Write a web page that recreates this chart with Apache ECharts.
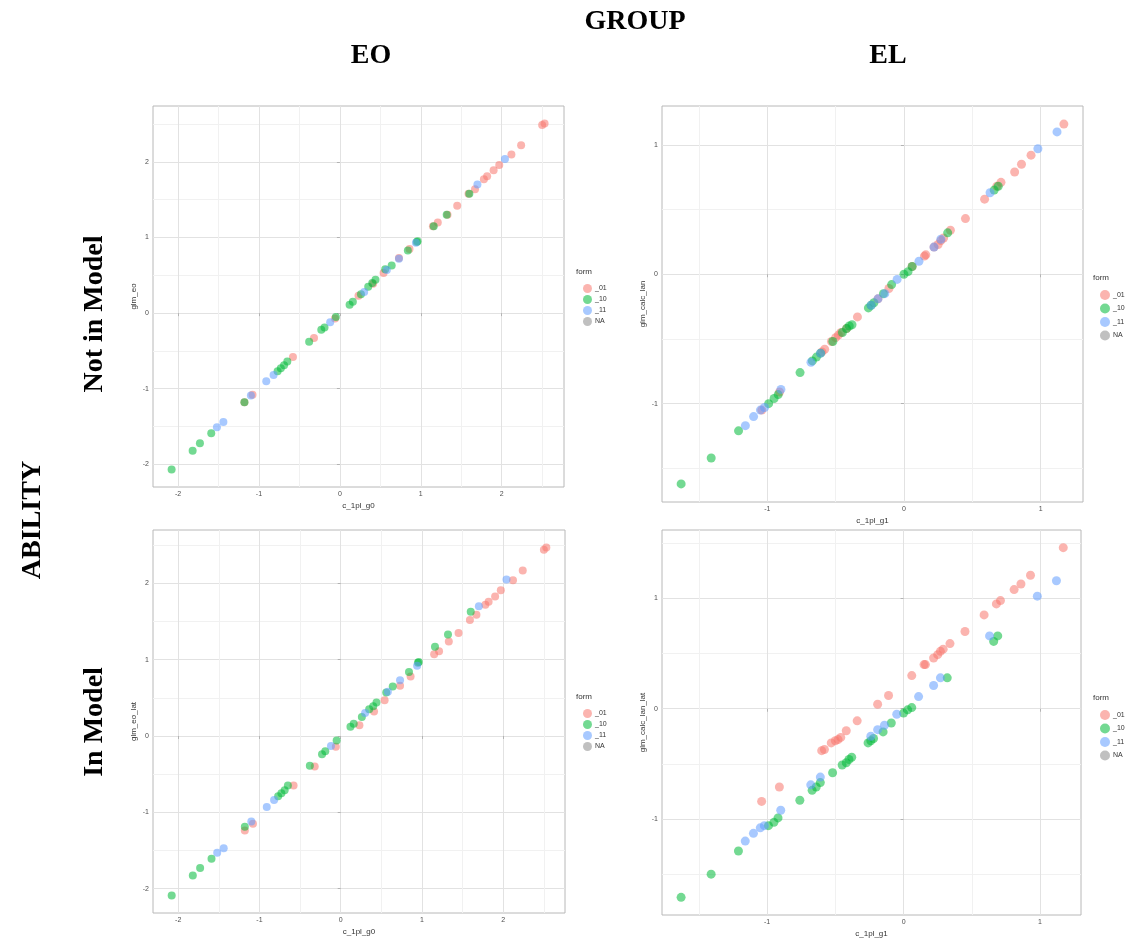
<!DOCTYPE html>
<html><head><meta charset="utf-8">
<script src="https://cdn.jsdelivr.net/npm/echarts@6/dist/echarts.min.js"></script>
<style>html,body{margin:0;padding:0;background:#fff}#c{width:1133px;height:939px}</style>
</head><body><div id="c"></div>
<script>
// ---------------- data ----------------
const forms = ['_01', '_10', '_11', 'NA'];
const formColors = ['#F8766D', '#00BA38', '#619CFF', '#8C8C8C'];
const ticksG0 = [-2, -1, 0, 1, 2];
const ticksG1 = [-1, 0, 1];
const xTitles = ['c_1pl_g0', 'c_1pl_g1', 'c_1pl_g0', 'c_1pl_g1'];
const yTitles = ['glm_eo', 'glm_calc_lan', 'glm_eo_lat', 'glm_calc_lan_lat'];
const colTitles = ['EO', 'EL'];
const rowTitles = ['Not in Model', 'In Model'];

// EO group, x = c_1pl_g0
const eoX01 = [-1.18, -1.08, -0.58, -0.32, -0.06, 0.23, 0.41, 0.54, 0.73, 0.86, 1.15, 1.21, 1.33, 1.45, 1.59, 1.67, 1.78, 1.82, 1.90, 1.97, 2.12, 2.24, 2.50, 2.53];
const eoY01 = [-1.18, -1.08, -0.58, -0.33, -0.07, 0.23, 0.39, 0.53, 0.73, 0.85, 1.15, 1.20, 1.30, 1.42, 1.58, 1.64, 1.77, 1.81, 1.89, 1.96, 2.10, 2.22, 2.49, 2.51];
const eoLatY01 = [-1.24, -1.15, -0.65, -0.40, -0.14, 0.14, 0.32, 0.47, 0.66, 0.78, 1.07, 1.11, 1.24, 1.35, 1.52, 1.59, 1.72, 1.76, 1.83, 1.91, 2.04, 2.17, 2.44, 2.47];

const eoX10 = [-2.08, -1.82, -1.73, -1.59, -1.18, -0.77, -0.73, -0.69, -0.65, -0.38, -0.23, -0.19, -0.05, 0.12, 0.16, 0.26, 0.35, 0.40, 0.44, 0.56, 0.64, 0.84, 0.95, 0.96, 1.16, 1.32, 1.60];
const eoY10 = [-2.07, -1.82, -1.72, -1.59, -1.18, -0.77, -0.73, -0.69, -0.64, -0.38, -0.22, -0.19, -0.05, 0.11, 0.15, 0.25, 0.35, 0.40, 0.44, 0.58, 0.63, 0.83, 0.94, 0.95, 1.15, 1.30, 1.58];
const eoLatY10 = [-2.09, -1.83, -1.73, -1.61, -1.19, -0.79, -0.75, -0.71, -0.65, -0.39, -0.24, -0.20, -0.06, 0.12, 0.16, 0.25, 0.35, 0.39, 0.44, 0.57, 0.65, 0.84, 0.96, 0.97, 1.17, 1.33, 1.63];

const eoX11 = [-1.52, -1.44, -1.10, -0.91, -0.82, -0.12, 0.30, 0.58, 0.73, 0.94, 1.70, 2.04];
const eoY11 = [-1.51, -1.44, -1.09, -0.90, -0.82, -0.12, 0.28, 0.57, 0.72, 0.93, 1.70, 2.04];
const eoLatY11 = [-1.53, -1.47, -1.12, -0.93, -0.84, -0.13, 0.30, 0.58, 0.73, 0.92, 1.70, 2.05];

// EL group, x = c_1pl_g1
const elX01 = [-1.04, -0.91, -0.60, -0.58, -0.53, -0.50, -0.48, -0.46, -0.42, -0.34, -0.19, -0.11, 0.06, 0.15, 0.16, 0.22, 0.25, 0.27, 0.29, 0.34, 0.45, 0.59, 0.68, 0.71, 0.81, 0.86, 0.93, 1.17];
const elY01 = [-1.05, -0.91, -0.60, -0.58, -0.52, -0.49, -0.47, -0.45, -0.42, -0.33, -0.19, -0.11, 0.06, 0.14, 0.15, 0.21, 0.23, 0.26, 0.28, 0.34, 0.43, 0.58, 0.68, 0.71, 0.79, 0.85, 0.92, 1.16];
const elLatY01 = [-0.84, -0.71, -0.38, -0.37, -0.31, -0.29, -0.28, -0.26, -0.20, -0.11, 0.04, 0.12, 0.30, 0.40, 0.40, 0.46, 0.49, 0.52, 0.54, 0.59, 0.70, 0.85, 0.95, 0.98, 1.08, 1.13, 1.21, 1.46];

const elX10 = [-1.63, -1.41, -1.21, -0.99, -0.95, -0.92, -0.76, -0.67, -0.64, -0.61, -0.52, -0.45, -0.42, -0.40, -0.38, -0.26, -0.24, -0.22, -0.15, -0.09, 0.00, 0.03, 0.06, 0.32, 0.66, 0.69];
const elY10 = [-1.62, -1.42, -1.21, -1.00, -0.96, -0.93, -0.76, -0.67, -0.64, -0.61, -0.52, -0.45, -0.42, -0.40, -0.39, -0.26, -0.24, -0.22, -0.15, -0.08, 0.00, 0.02, 0.06, 0.32, 0.65, 0.68];
const elLatY10 = [-1.71, -1.50, -1.29, -1.06, -1.03, -0.99, -0.83, -0.74, -0.71, -0.67, -0.58, -0.51, -0.49, -0.46, -0.44, -0.31, -0.29, -0.27, -0.21, -0.13, -0.04, -0.01, 0.01, 0.28, 0.61, 0.66];

const elX11 = [-1.16, -1.10, -1.05, -1.02, -0.90, -0.68, -0.61, -0.24, -0.19, -0.14, -0.05, 0.11, 0.22, 0.27, 0.63, 0.98, 1.12];
const elY11 = [-1.17, -1.10, -1.05, -1.03, -0.89, -0.68, -0.61, -0.24, -0.19, -0.15, -0.04, 0.10, 0.21, 0.27, 0.63, 0.97, 1.10];
const elLatY11 = [-1.20, -1.13, -1.08, -1.06, -0.92, -0.69, -0.62, -0.25, -0.19, -0.15, -0.05, 0.11, 0.21, 0.28, 0.66, 1.02, 1.16];

// ---------------- layout ----------------
const zip = (xs, ys) => xs.map((x, i) => [x, ys[i]]);
const panelData = [
  [zip(eoX01, eoY01), zip(eoX10, eoY10), zip(eoX11, eoY11), []],
  [zip(elX01, elY01), zip(elX10, elY10), zip(elX11, elY11), []],
  [zip(eoX01, eoLatY01), zip(eoX10, eoLatY10), zip(eoX11, eoLatY11), []],
  [zip(elX01, elLatY01), zip(elX10, elLatY10), zip(elX11, elLatY11), []]
];
const panels = [
  {left: 153, top: 106, width: 411, height: 381, xr: [-2.31, 2.77], yr: [-2.30, 2.74], ticks: ticksG0, size: 8, lx: 576, ly: 272, gap: 2},
  {left: 662, top: 106, width: 421, height: 396, xr: [-1.77, 1.31], yr: [-1.76, 1.30], ticks: ticksG1, size: 9, lx: 1093, ly: 278, gap: 3.5},
  {left: 153, top: 530, width: 412, height: 383, xr: [-2.31, 2.76], yr: [-2.32, 2.70], ticks: ticksG0, size: 8, lx: 576, ly: 697, gap: 2},
  {left: 662, top: 530, width: 419, height: 386, xr: [-1.77, 1.30], yr: [-1.87, 1.62], ticks: ticksG1, size: 9, lx: 1093, ly: 698, gap: 3.5}
];

const grid = [], xAxis = [], yAxis = [], series = [], legend = [], graphic = [];
const axisCommon = (ticks) => ({
  type: 'value', minInterval: 1, maxInterval: 1,
  axisLine: {show: false},
  axisTick: {show: true, length: 3, customValues: ticks, lineStyle: {color: '#B3B3B3', width: 1}},
  axisLabel: {customValues: ticks, fontSize: 7, color: '#4D4D4D', margin: 4, fontFamily: 'Liberation Sans'},
  splitLine: {show: true, lineStyle: {color: '#E2E2E2', width: 1}},
  minorTick: {show: false, splitNumber: 2},
  minorSplitLine: {show: true, lineStyle: {color: '#F1F1F1', width: 1}},
  nameLocation: 'middle',
  nameTextStyle: {fontSize: 8, color: '#333', fontFamily: 'Liberation Sans'}
});

panels.forEach((p, i) => {
  grid.push({left: p.left, top: p.top, width: p.width, height: p.height, show: true,
    borderColor: '#B8B8B8', borderWidth: 1, backgroundColor: '#fff', containLabel: false});
  xAxis.push(Object.assign(axisCommon(p.ticks), {gridIndex: i, min: p.xr[0], max: p.xr[1], name: xTitles[i], nameGap: 15}));
  yAxis.push(Object.assign(axisCommon(p.ticks), {gridIndex: i, min: p.yr[0], max: p.yr[1], name: yTitles[i], nameGap: 15}));
  forms.forEach((f, k) => {
    series.push({
      type: 'scatter', name: f, xAxisIndex: i, yAxisIndex: i,
      data: panelData[i][k], symbolSize: p.size,
      itemStyle: {color: formColors[k], opacity: 0.55},
      emphasis: {disabled: true}, silent: true, z: 3
    });
  });
  legend.push({
    data: forms, orient: 'vertical', left: p.lx + 2, top: p.ly + 7,
    icon: 'circle', itemWidth: p.size + 1, itemHeight: p.size + 1, itemGap: p.gap,
    selectedMode: false,
    textStyle: {fontSize: 7, color: '#333', fontFamily: 'Liberation Sans', padding: [0, 0, 0, -2]}
  });
  graphic.push({type: 'text', x: p.lx, y: p.ly, style: {text: 'form', fontSize: 8, fill: '#333',
    fontFamily: 'Liberation Sans', align: 'left', verticalAlign: 'middle'}});
});

const serif = 'bold 28px "Liberation Serif", "Times New Roman", serif';
graphic.push(
  {type: 'text', x: 635, y: 22, style: {text: 'GROUP', font: serif, fill: '#000', align: 'center', verticalAlign: 'middle'}},
  {type: 'text', x: 371, y: 56, style: {text: colTitles[0], font: serif, fill: '#000', align: 'center', verticalAlign: 'middle'}},
  {type: 'text', x: 888, y: 56, style: {text: colTitles[1], font: serif, fill: '#000', align: 'center', verticalAlign: 'middle'}},
  {type: 'text', x: 33, y: 520, rotation: Math.PI / 2, style: {text: 'ABILITY', font: serif, fill: '#000', align: 'center', verticalAlign: 'middle'}},
  {type: 'text', x: 95, y: 314, rotation: Math.PI / 2, style: {text: rowTitles[0], font: serif, fill: '#000', align: 'center', verticalAlign: 'middle'}},
  {type: 'text', x: 95, y: 722, rotation: Math.PI / 2, style: {text: rowTitles[1], font: serif, fill: '#000', align: 'center', verticalAlign: 'middle'}}
);

const chart = echarts.init(document.getElementById('c'), null, {renderer: 'canvas'});
chart.setOption({
  backgroundColor: '#fff', animation: false,
  grid, xAxis, yAxis, series, legend, graphic
});
</script>
</body></html>
